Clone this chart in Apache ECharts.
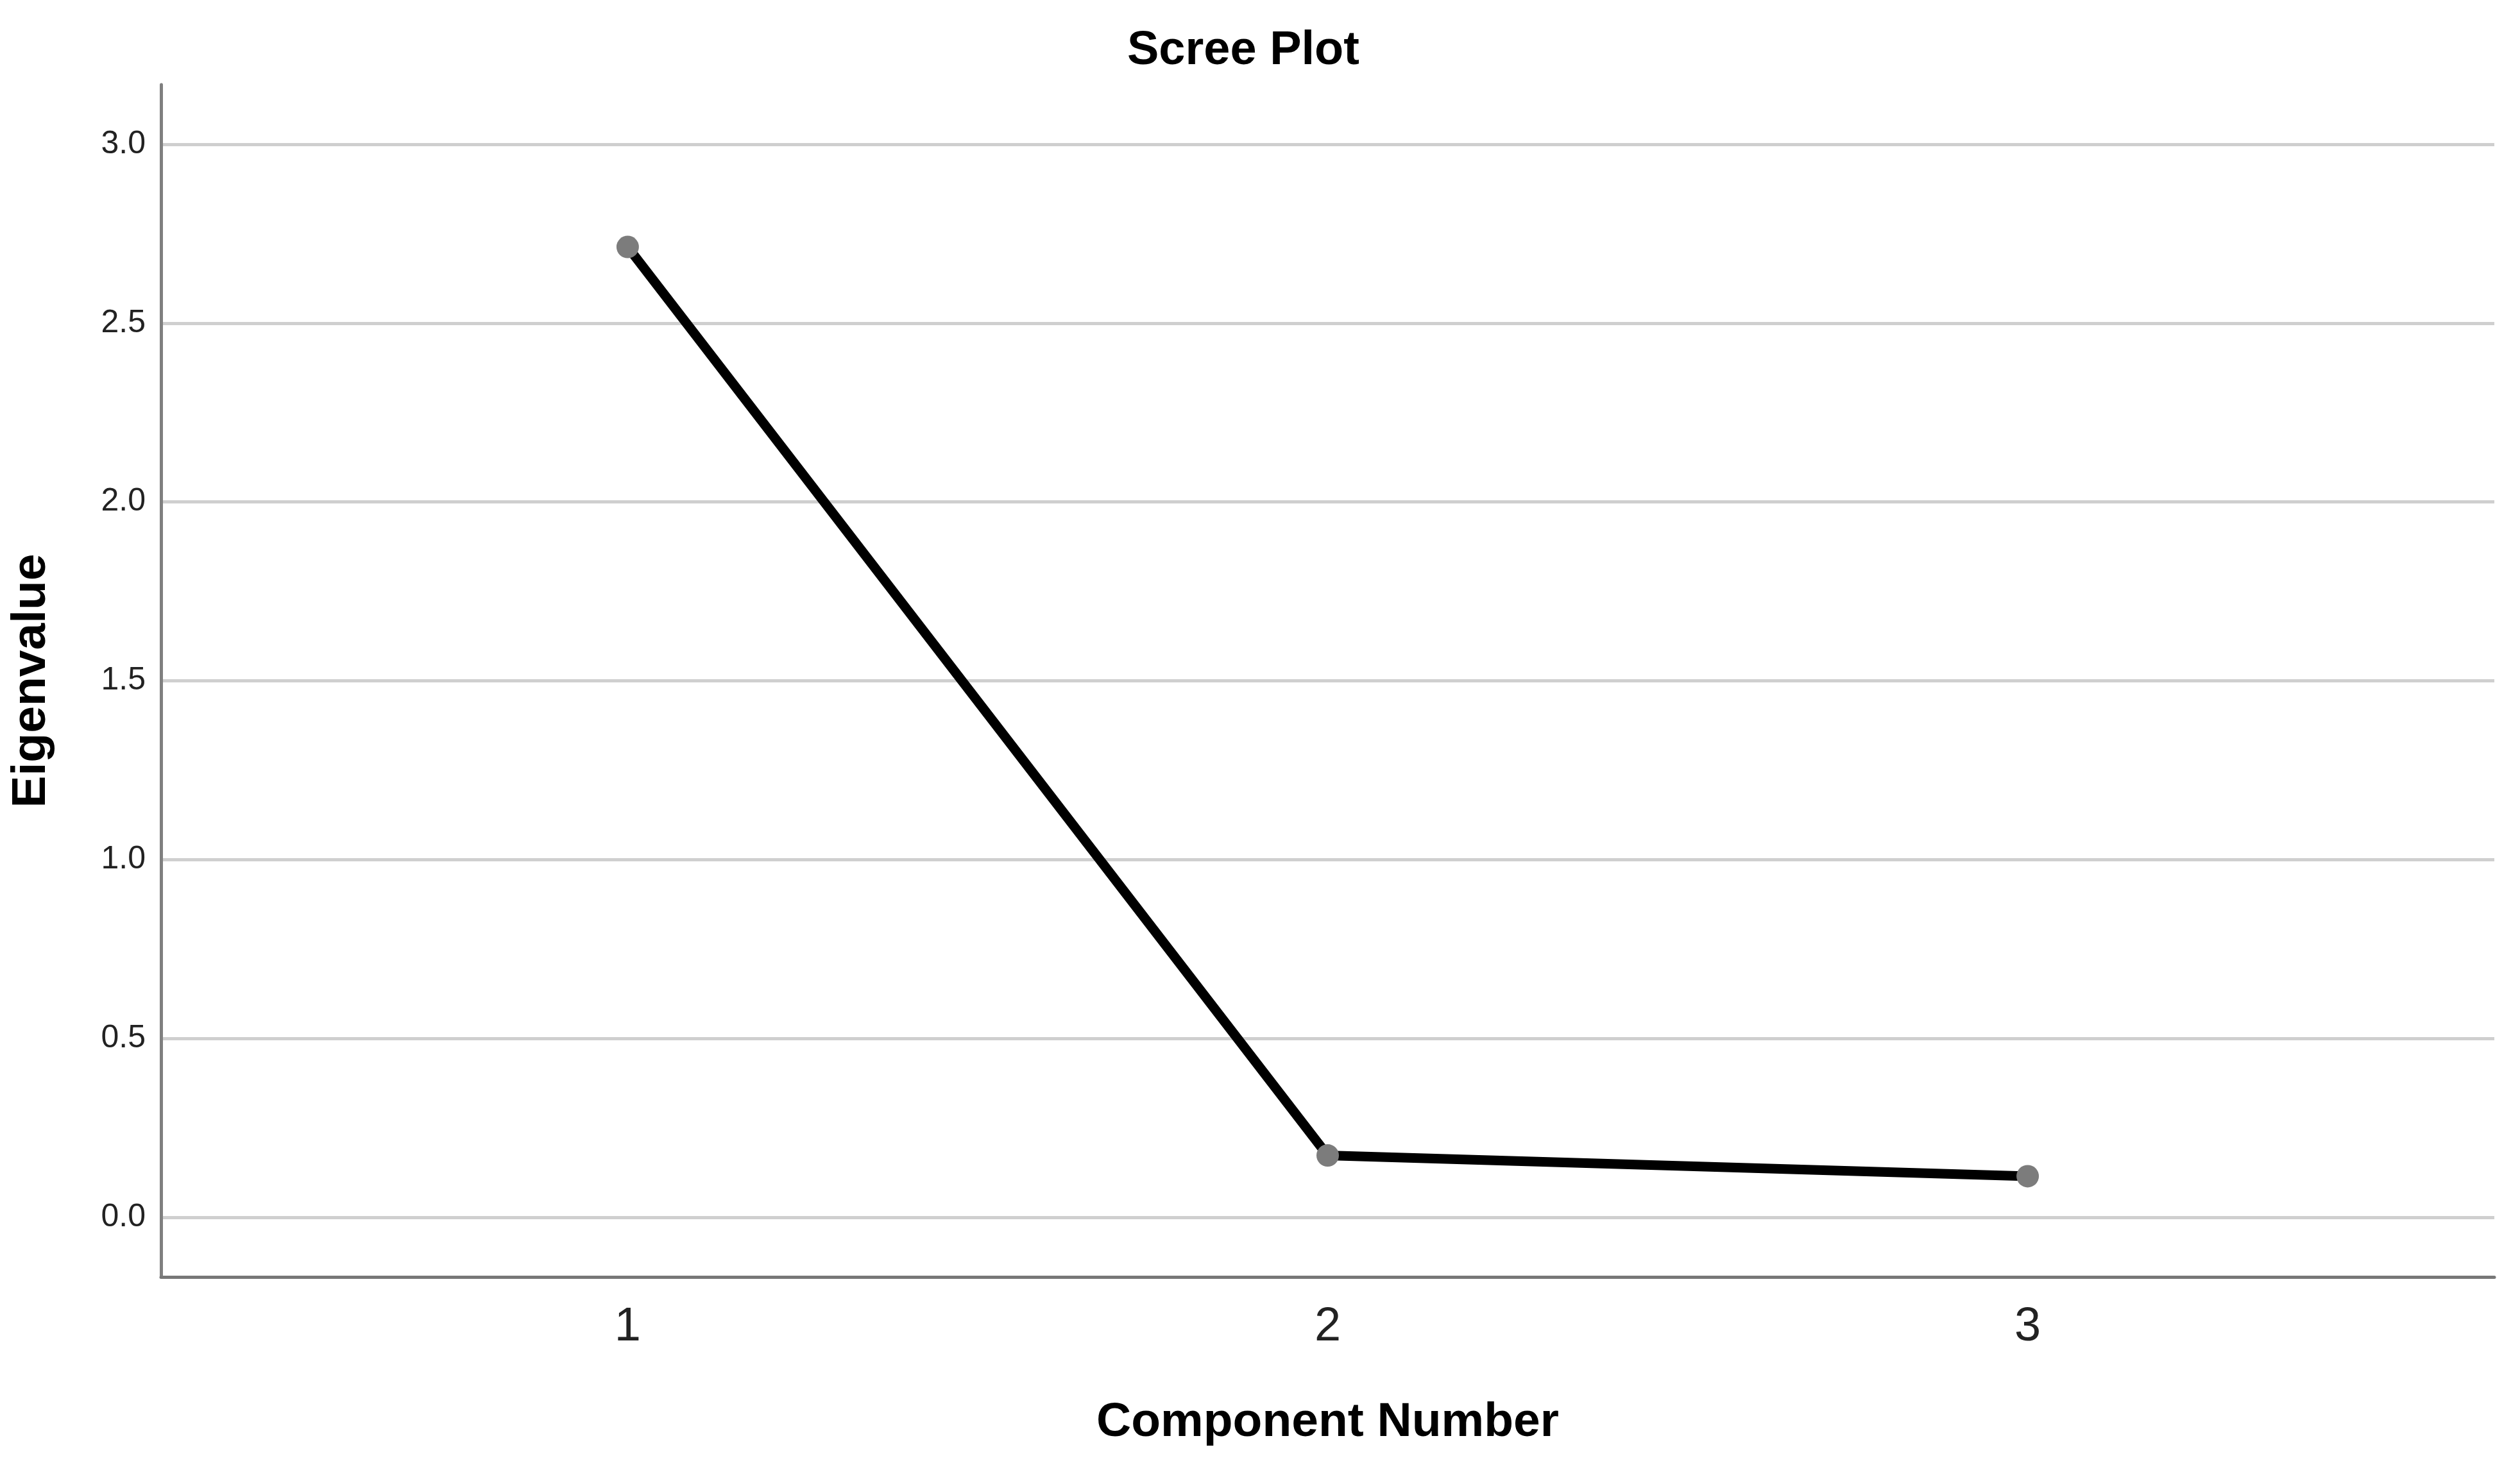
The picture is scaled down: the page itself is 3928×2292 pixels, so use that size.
<!DOCTYPE html>
<html>
<head>
<meta charset="utf-8">
<script src="https://cdn.jsdelivr.net/npm/echarts@6/dist/echarts.min.js"></script>
<style>
  html, body { margin: 0; padding: 0; background: #fff; }
  #chart { width: 3928px; height: 2292px; }
</style>
</head>
<body>
<div id="chart"></div>
<script>
// scree plot data
const components = [1, 2, 3];
const eigenvalues = [2.713, 0.173, 0.115];
const yTicks = [0, 0.5, 1.0, 1.5, 2.0, 2.5, 3.0];
const xTicks = [1, 2, 3];

const FONT = '"Liberation Sans", Arial, sans-serif';

const chart = echarts.init(document.getElementById('chart'));

chart.setOption({
    backgroundColor: '#ffffff',
    animation: false,

    title: {
        text: 'Scree Plot',
        left: 1752,
        top: 38,
        textStyle: { fontFamily: FONT, fontSize: 74, fontWeight: 'bold', color: '#000' }
    },

    grid: { left: 251, right: 40, top: 132, bottom: 301 },

    xAxis: {
        type: 'value',
        min: 1 / 3,
        max: 11 / 3,
        name: 'Component Number',
        nameLocation: 'middle',
        nameGap: 190,
        nameTextStyle: { fontFamily: FONT, fontSize: 75, fontWeight: 'bold', color: '#000' },
        axisLine: { show: true, onZero: false, lineStyle: { color: '#777', width: 5 } },
        axisTick: { show: false, customValues: xTicks },
        splitLine: { show: false },
        axisLabel: {
            customValues: xTicks,
            margin: 42,
            fontFamily: FONT,
            fontSize: 74,
            color: '#222'
        }
    },

    yAxis: {
        type: 'value',
        min: -1 / 6,
        max: 3 + 1 / 6,
        name: 'Eigenvalue',
        nameLocation: 'middle',
        nameGap: 164,
        nameRotate: 90,
        nameTextStyle: { fontFamily: FONT, fontSize: 75, fontWeight: 'bold', color: '#000' },
        axisLine: { show: true, lineStyle: { color: '#808080', width: 5 } },
        axisTick: { show: false, customValues: yTicks },
        splitLine: { show: true, lineStyle: { color: '#cfcfcf', width: 5 } },
        axisLabel: {
            customValues: yTicks,
            margin: 24,
            fontFamily: FONT,
            fontSize: 50,
            color: '#222',
            formatter: v => v.toFixed(1)
        }
    },

    series: [{
        type: 'line',
        data: components.map((c, i) => [c, eigenvalues[i]]),
        symbol: 'circle',
        symbolSize: 35,
        lineStyle: { color: '#000', width: 15 },
        itemStyle: { color: '#7c7c7c' },
        z: 3
    }]
});
</script>
</body>
</html>
